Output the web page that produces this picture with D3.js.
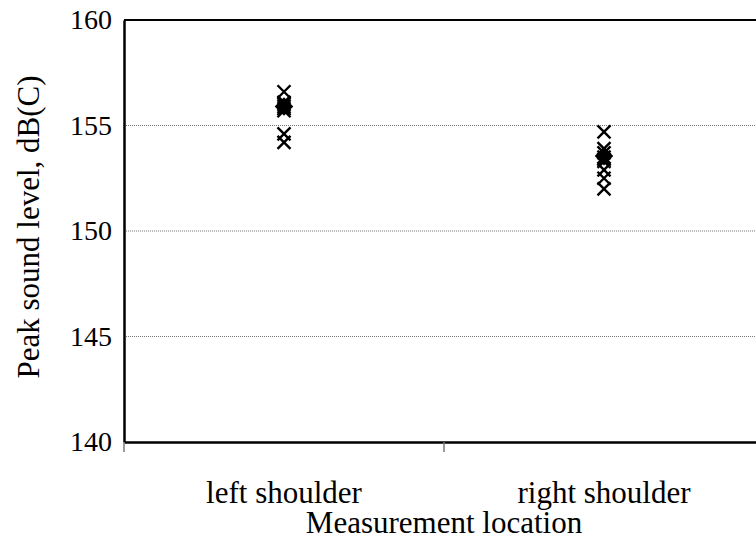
<!DOCTYPE html>
<html lang="en">
<head>
    <meta charset="UTF-8">
    <title>Peak sound level</title>
    <style>
        body { margin: 0; background: #fff; }
        text { font-family: "Liberation Serif", "Times New Roman", serif; fill: #000; }
    </style>
</head>
<body>
    <svg id="chart" width="756" height="542"></svg>

<script src="https://cdn.jsdelivr.net/npm/d3@7"></script>
<script>
    // data
    let locations = ["left shoulder", "right shoulder"]
    let leftValues = [156.6, 156.1, 156.0, 155.9, 155.8, 155.7, 154.6, 154.2]
    let rightValues = [154.7, 153.9, 153.7, 153.5, 153.4, 153.3, 152.9, 152.5, 152.0]
    let means = [155.9, 153.55]
    let yTicks = [140, 145, 150, 155, 160]

    let svg = d3.select("#chart")
    let plotLeft = 124, plotTop = 20, plotBottom = 442, plotRight = 764

    let x = d3.scaleBand().domain(locations).range([plotLeft, plotRight])
    let y = d3.scaleLinear().domain([140, 160]).range([plotBottom, plotTop])

    // gridlines
    svg.append("g").selectAll("line")
        .data(yTicks.filter(d => d > 140 && d < 160))
        .join("line")
        .attr("x1", plotLeft).attr("x2", plotRight)
        .attr("y1", d => y(d)).attr("y2", d => y(d))
        .attr("stroke", "#777")
        .attr("stroke-width", 1)
        .attr("stroke-dasharray", "1,1")

    // frame
    svg.append("line").attr("x1", plotLeft).attr("x2", plotRight).attr("y1", plotTop).attr("y2", plotTop)
        .attr("stroke", "#000").attr("stroke-width", 2)

    // y axis
    let yAxis = d3.axisLeft(y).tickValues(yTicks).tickSize(0).tickPadding(12)
    let yg = svg.append("g").attr("transform", `translate(${plotLeft},0)`).call(yAxis)
    yg.attr("font-family", null).attr("font-size", null)
    yg.select(".domain").attr("stroke", "#000").attr("stroke-width", 2.5)
    yg.selectAll("text").style("font-size", "28px")

    // x axis
    let xAxis = d3.axisBottom(x).tickSize(0).tickPadding(39)
    let xg = svg.append("g").attr("transform", `translate(0,${plotBottom})`).call(xAxis)
    xg.attr("font-family", null).attr("font-size", null)
    xg.select(".domain").attr("stroke", "#000").attr("stroke-width", 2.5)
    xg.selectAll("text").style("font-size", "31px")

    // category boundary ticks
    svg.append("g").selectAll("line")
        .data(locations)
        .join("line")
        .attr("x1", d => x(d)).attr("x2", d => x(d))
        .attr("y1", plotBottom).attr("y2", plotBottom + 10)
        .attr("stroke", "#777").attr("stroke-width", 1.5)

    // axis titles
    svg.append("text")
        .attr("transform", `translate(39,${(plotTop + plotBottom) / 2 - 4}) rotate(-90)`)
        .attr("text-anchor", "middle")
        .style("font-size", "31px")
        .text("Peak sound level, dB(C)")

    svg.append("text")
        .attr("x", (plotLeft + plotRight) / 2).attr("y", 533)
        .attr("text-anchor", "middle")
        .style("font-size", "31px")
        .text("Measurement location")

    // individual measurements as crosses
    let points = []
    leftValues.forEach(v => points.push({ loc: locations[0], v: v }))
    rightValues.forEach(v => points.push({ loc: locations[1], v: v }))

    let s = 6.5
    let cross = d => `M${-s},${-s}L${s},${s}M${-s},${s}L${s},${-s}`
    svg.append("g").selectAll("path")
        .data(points)
        .join("path")
        .attr("transform", d => `translate(${x(d.loc) + x.bandwidth() / 2},${y(d.v)})`)
        .attr("d", cross)
        .attr("stroke", "#000")
        .attr("stroke-width", 2.4)
        .attr("fill", "none")

    // means as filled diamonds
    svg.append("g").selectAll("path")
        .data(means)
        .join("path")
        .attr("transform", (d, i) => `translate(${x(locations[i]) + x.bandwidth() / 2},${y(d)})`)
        .attr("d", d3.symbol().type(d3.symbolDiamond2).size(220))
        .attr("fill", "#000")
</script>
</body>
</html>
